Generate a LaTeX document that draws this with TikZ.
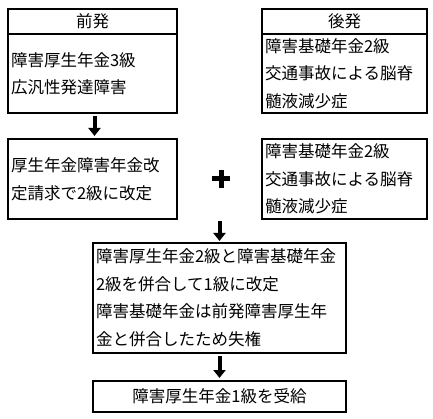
\documentclass[tikz,border=0pt]{standalone}
\usepackage{fontspec}
\newfontfamily\jpfont{Noto Sans CJK JP}
\usetikzlibrary{arrows.meta,positioning}

\begin{document}
\begin{tikzpicture}[x=1pt, y=-1pt,
  box/.style={rectangle, draw, line width=2.5pt, outer sep=0pt, inner xsep=3pt, inner ysep=0pt, font=\jpfont\fontsize{16.5}{27.5}\selectfont},
  headbox/.style={box, text width=#1, align=center, minimum height=25pt},
  textbox/.style={box, text width=#1, align=left},
  fat/.style={-{Triangle[width=12pt,length=8pt]}, line width=4pt},
  plusbar/.style={line width=5pt}
]
\useasboundingbox (0,0) rectangle (433,419);

% earlier and later claims
\node[headbox=163pt, anchor=north west] (pre) at (8,9) {前発};
\node[textbox=163pt, minimum height=79pt, below=0pt of pre] (prebody) {障害厚生年金3級\\広汎性発達障害};
\node[headbox=159pt, anchor=north west] (post) at (262,9) {後発};
\node[textbox=159pt, minimum height=79pt, below=0pt of post] (postbody) {障害基礎年金2級\\交通事故による脳脊\\髄液減少症};

% second row
\node[textbox=163pt, minimum height=80pt, anchor=north west] (mid) at (8,139) {厚生年金障害年金改\\定請求で2級に改定};
\node[textbox=159pt, minimum height=80pt, anchor=north west] (midr) at (262,139) {障害基礎年金2級\\交通事故による脳脊\\髄液減少症};
\coordinate (plus) at (221,179);
\draw[plusbar] ([xshift=-9pt]plus) -- ([xshift=9pt]plus);
\draw[plusbar] ([yshift=-9pt]plus) -- ([yshift=9pt]plus);

% result
\node[textbox=247pt, minimum height=110pt, anchor=north west] (merge) at (93,243) {障害厚生年金2級と障害基礎年金\\2級を併合して1級に改定\\障害基礎年金は前発障害厚生年\\金と併合したため失権};
\node[headbox=247pt, minimum height=31pt, anchor=north west] (final) at (93,381) {障害厚生年金1級を受給};

\coordinate (join) at (219.5,221);
\draw[fat, shorten <=3pt, shorten >=3pt] ([xshift=2pt]prebody.south) -- ([xshift=2pt]mid.north);
\draw[fat, shorten >=2pt] (join) -- (merge.north);
\draw[fat, shorten <=3pt, shorten >=3pt] (merge.south) -- (final.north);
\end{tikzpicture}
\end{document}
